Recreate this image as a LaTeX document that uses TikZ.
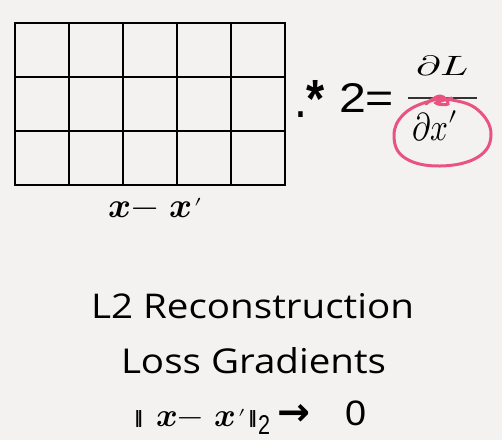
\documentclass[tikz,border=0pt]{standalone}
\usepackage{graphicx}
\usepackage{fontspec}
\usepackage{unicode-math}
\setmathfont{Latin Modern Math}
\setmainfont{Open Sans}
\newfontfamily\symfont{DejaVu Sans}
\newfontfamily\arialfont{Liberation Sans}
\definecolor{paper}{HTML}{F4F2F1}
\definecolor{inkpink}{HTML}{E8547F}
\newcommand{\xdiff}{$\symbfit{x}\mathord{-}\mkern6mu\symbfit{x}\mkern1mu\raisebox{-12pt}{$^{\prime}$}$}
\tikzset{
  gridline/.style={line width=2.6pt, black, line cap=rect},
  tb/.style={inner sep=0pt, outer sep=0pt},
  mathbig/.style={tb, font=\fontsize{35}{35}\selectfont},
  mathmid/.style={tb, font=\fontsize{33}{33}\selectfont},
}
\begin{document}
\begin{tikzpicture}[x=1pt,y=-1pt]
\fill[paper] (0,0) rectangle (502,440);
\useasboundingbox (0,0) rectangle (502,440);
% grid
\foreach \i in {0,...,5} {\draw[gridline] (15+54*\i,23) -- (15+54*\i,185);}
\foreach \j in {0,...,3} {\draw[gridline] (15,23+54*\j) -- (285,23+54*\j);}
% .* 2 =
\node[tb, anchor=base west] (dotstar) at (294,117) {\resizebox{31pt}{37pt}{\arialfont .\textbf{*}}};
\node[tb, anchor=base west] (two) at (339,112) {\resizebox{55pt}{29pt}{\arialfont 2=}};
% fraction
\node[tb, anchor=base west] (num) at (416,75) {\resizebox{53pt}{20pt}{$\partial L$}};
\node[tb, anchor=base west] (den) at (412,140) {\resizebox{47pt}{29pt}{$\partial x'$}};
\coordinate (barL) at (408,98);
\coordinate (barR) at (477,98);
\draw[line width=2.2pt, black!80] (barL) -- (barR);
% pink circle
\draw[inkpink, line width=3pt, line cap=round, line join=round]
  plot[smooth cycle, tension=0.7] coordinates {(430,101) (404,114) (394,136) (405,158) (440,166) (478,157) (491,134) (478,110) (452,100)};
\draw[inkpink, line width=3pt, line cap=round]
  plot[smooth, tension=0.8] coordinates {(426,104) (440,96) (448,104) (436,103) (452,98)};
% x - x'
\node[mathbig, anchor=base west] (diff) at (108,217) {\xdiff};
% captions
\node[tb, anchor=base west] (c1) at (91,318) {\resizebox{323pt}{25pt}{L2 Reconstruction}};
\node[tb, anchor=base west] (c2) at (121,373) {\resizebox{265pt}{26pt}{Loss Gradients}};
% bottom formula
\node[tb, anchor=south west] (nl) at (134,427) {\resizebox*{9pt}{17pt}{\symfont\bfseries ‖}};
\node[mathmid, anchor=base west] (nx) at (156,426) {\xdiff};
\node[tb, anchor=south west] (nr) at (248,427) {\resizebox*{9pt}{17pt}{\symfont\bfseries ‖}};
\node[tb, anchor=south west] (sub) at (258,434) {\resizebox*{12pt}{19pt}{\arialfont 2}};
\node[tb] (arr) at (294,415) {\resizebox*{33pt}{21pt}{\symfont\bfseries →}};
\node[tb, anchor=south west] (zero) at (345,426) {\resizebox*{21pt}{25pt}{\arialfont 0}};
\end{tikzpicture}
\end{document}
